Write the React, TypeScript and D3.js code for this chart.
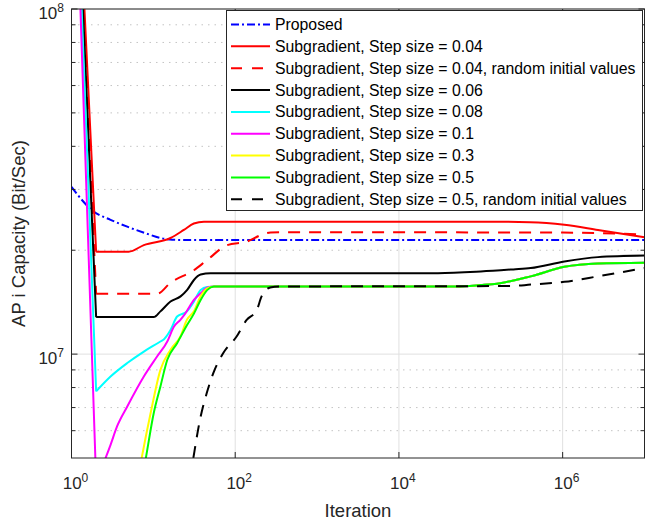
import React from 'react';
import * as d3 from 'd3';

type P = [number, number];

// ---------- data (iteration, capacity) ----------
const proposed: P[] = [[1, 3.05e7], [1.86, 2.59e7], [3, 2.45e7], [4.8, 2.34e7], [8, 2.24e7], [12.2, 2.17e7], [17, 2.145e7], [25, 2.14e7], [1e7, 2.14e7]];
const sub004: P[] = [[1, 6e8], [2, 1.98e7], [5, 1.98e7], [7.65, 2.07e7], [16.2, 2.17e7], [23.6, 2.29e7], [31.2, 2.39e7], [41.5, 2.42e7], [55, 2.42e7], [1e5, 2.42e7], [4e5, 2.41e7], [1.05e6, 2.37e7], [2.7e6, 2.29e7], [1e7, 2.18e7]];
const sub004Rand: P[] = [[1, 6e8], [2, 1.495e7], [11.1, 1.495e7], [16.2, 1.61e7], [31.3, 1.75e7], [45.6, 1.875e7], [80, 2.07e7], [140, 2.12e7], [204, 2.21e7], [270, 2.25e7], [400, 2.255e7], [1e6, 2.25e7], [1e7, 2.22e7]];
const sub006: P[] = [[1, 6e8], [2, 1.28e7], [10.1, 1.28e7], [12.2, 1.33e7], [16.2, 1.42e7], [21.5, 1.47e7], [25.9, 1.535e7], [31.3, 1.64e7], [37.8, 1.70e7], [50, 1.716e7], [3e4, 1.716e7], [1e5, 1.735e7], [2.5e5, 1.76e7], [4.07e5, 1.775e7], [1.05e6, 1.855e7], [2.7e6, 1.91e7], [1e7, 1.93e7]];
const convergedTail: P[] = [[55, 1.57e7], [5e4, 1.57e7], [1e5, 1.585e7], [1.58e5, 1.6e7], [4.07e5, 1.68e7], [1.05e6, 1.79e7], [2.7e6, 1.83e7], [1e7, 1.84e7]];
const sub008: P[] = [[1, 6e8], [2, 7.8e6], [3, 8.61e6], [4.8, 9.42e6], [7.65, 1.017e7], [12.2, 1.088e7], [13.5, 1.105e7], [16.2, 1.175e7], [19.5, 1.285e7], [25.7, 1.33e7], [31.3, 1.42e7], [37.8, 1.535e7], [45.6, 1.565e7], ...convergedTail];
const sub01: P[] = [[1, 6e8], [2, 4.27e6], [3, 5.46e6], [3.6, 6.17e6], [4.8, 7.05e6], [7.65, 8.61e6], [11.1, 9.84e6], [14.8, 1.088e7], [17.8, 1.2e7], [21.4, 1.257e7], [24.5, 1.31e7], [31.3, 1.435e7], [37.8, 1.5e7], [46, 1.56e7], ...convergedTail];
const sub03: P[] = [[1, 1e6], [4, 2.5e6], [6.3, 4.2e6], [7.2, 5.0e6], [9.25, 6.74e6], [12.2, 9.0e6], [16.2, 1.03e7], [21.4, 1.125e7], [25.7, 1.257e7], [31.3, 1.33e7], [37.8, 1.47e7], [45.6, 1.55e7], ...convergedTail];
const sub05: P[] = [[1, 1e6], [4, 2.3e6], [7.1, 4.2e6], [8.1, 5.0e6], [10.1, 6.74e6], [12.2, 8.06e6], [14.8, 9.63e6], [19.5, 1.076e7], [25.9, 1.216e7], [31.3, 1.31e7], [37.8, 1.435e7], [45.7, 1.535e7], ...convergedTail];
const sub05Rand: P[] = [[20, 2.5e6], [30.8, 5e6], [37.1, 6.45e6], [44.9, 7.71e6], [54, 8.81e6], [71.5, 1.007e7], [104, 1.125e7], [138, 1.257e7], [183, 1.34e7], [210, 1.47e7], [268, 1.56e7], [359, 1.57e7], [2.3e5, 1.575e7], [4.07e5, 1.59e7], [1.05e6, 1.62e7], [2.7e6, 1.68e7], [1e7, 1.775e7]];

const legendLabels = [
  'Proposed',
  'Subgradient, Step size = 0.04',
  'Subgradient, Step size = 0.04, random initial values',
  'Subgradient, Step size = 0.06',
  'Subgradient, Step size = 0.08',
  'Subgradient, Step size = 0.1',
  'Subgradient, Step size = 0.3',
  'Subgradient, Step size = 0.5',
  'Subgradient, Step size = 0.5, random initial values',
];

const xTickValues = [1, 1e2, 1e4, 1e6];
const xTickExp = ['0', '2', '4', '6'];
const yMajorValues = [1e7, 1e8];
const yMajorExp = ['7', '8'];
const yMinorValues = [6e6, 7e6, 8e6, 9e6, 2e7, 3e7, 4e7, 5e7, 6e7, 7e7, 8e7, 9e7];

// ---------- layout / style ----------
const W = 645, H = 529;
const X0 = 71.5, X1 = 644.5, Y0 = 9, Y1 = 458;
const FONT = '"Liberation Sans", Arial, Helvetica, sans-serif';
const AX = '#262626';

const seriesList = [
  { data: proposed, color: '#0000ff', dash: '8,3,2,3', sharp: false },
  { data: sub004, color: '#ff0000', dash: '', sharp: true },
  { data: sub004Rand, color: '#ff0000', dash: '12,9', sharp: true },
  { data: sub006, color: '#000000', dash: '', sharp: true },
  { data: sub008, color: '#00ffff', dash: '', sharp: true },
  { data: sub01, color: '#ff00ff', dash: '', sharp: true },
  { data: sub03, color: '#ffff00', dash: '', sharp: false },
  { data: sub05, color: '#00ff00', dash: '', sharp: false },
  { data: sub05Rand, color: '#000000', dash: '12,9', sharp: false },
];

export default function App() {
  const x = d3.scaleLog().domain([1, 1e7]).range([X0, X1]);
  const y = d3.scaleLog().domain([5e6, 1e8]).range([Y1, Y0]);
  const lin = d3.line<P>().x(d => x(d[0])).y(d => y(d[1]));
  const smooth = d3.line<P>().x(d => x(d[0])).y(d => y(d[1])).curve(d3.curveMonotoneX);

  const pathFor = (data: P[], sharp: boolean) =>
    sharp ? (lin(data.slice(0, 2)) || '') + (smooth(data.slice(1)) || '') : smooth(data) || '';

  const legX = 226.5, legY = 10.5, legW = 416, legH = 200;
  const rowY0 = 24.5, rowDY = 21.85;

  return (
    <svg width={W} height={H} style={{ position: 'absolute', left: 0, top: 0, background: '#fff' }} fontFamily={FONT}>
      <defs>
        <clipPath id="plotclip">
          <rect x={X0} y={Y0} width={X1 - X0} height={Y1 - Y0} />
        </clipPath>
      </defs>
      <rect x={0} y={0} width={W} height={H} fill="#fff" />
      {/* grid */}
      {yMinorValues.map(v => (
        <line key={'gm' + v} x1={X0} x2={X1} y1={y(v)} y2={y(v)} stroke="#c4c4c4" strokeWidth={1} strokeDasharray="1.5,5" />
      ))}
      {yMajorValues.map(v => (
        <line key={'gy' + v} x1={X0} x2={X1} y1={y(v)} y2={y(v)} stroke="#e0e0e0" strokeWidth={1} />
      ))}
      {xTickValues.slice(1).map(v => (
        <line key={'gx' + v} x1={x(v)} x2={x(v)} y1={Y0} y2={Y1} stroke="#e0e0e0" strokeWidth={1} />
      ))}
      {/* series */}
      <g clipPath="url(#plotclip)">
        {seriesList.map((s, i) => (
          <path key={'s' + i} d={pathFor(s.data, s.sharp)} fill="none" stroke={s.color} strokeWidth={2}
            strokeDasharray={s.dash || undefined} strokeLinejoin="round" />
        ))}
      </g>
      {/* axes box */}
      <rect x={X0} y={Y0} width={X1 - X0} height={Y1 - Y0} fill="none" stroke={AX} strokeWidth={1} />
      {/* ticks */}
      {yMinorValues.map(v => (
        <g key={'tm' + v}>
          <line x1={X0} x2={X0 + 4} y1={y(v)} y2={y(v)} stroke={AX} />
          <line x1={X1} x2={X1 - 4} y1={y(v)} y2={y(v)} stroke={AX} />
        </g>
      ))}
      {yMajorValues.map(v => (
        <g key={'tM' + v}>
          <line x1={X0} x2={X0 + 6} y1={y(v)} y2={y(v)} stroke={AX} />
          <line x1={X1} x2={X1 - 6} y1={y(v)} y2={y(v)} stroke={AX} />
        </g>
      ))}
      {xTickValues.map(v => (
        <g key={'tx' + v}>
          <line x1={x(v)} x2={x(v)} y1={Y1} y2={Y1 - 6} stroke={AX} />
          <line x1={x(v)} x2={x(v)} y1={Y0} y2={Y0 + 6} stroke={AX} />
        </g>
      ))}
      {/* tick labels */}
      {yMajorValues.map((v, i) => (
        <text key={'ly' + v} x={64} y={y(v) + 10} textAnchor="end" fontSize={17} fill={AX}>
          10<tspan dy={-7} fontSize={12}>{yMajorExp[i]}</tspan>
        </text>
      ))}
      {xTickValues.map((v, i) => (
        <text key={'lx' + v} x={x(v) + 4} y={489} textAnchor="middle" fontSize={17} fill={AX}>
          10<tspan dy={-7} fontSize={12}>{xTickExp[i]}</tspan>
        </text>
      ))}
      {/* axis labels */}
      <text x={(X0 + X1) / 2} y={516.5} textAnchor="middle" fontSize={18.5} fill={AX}>Iteration</text>
      <text transform={`translate(25,${(Y0 + Y1) / 2}) rotate(-90)`} textAnchor="middle" fontSize={18.5} fill={AX}>
        AP i Capacity (Bit/Sec)
      </text>
      {/* legend */}
      <rect x={legX} y={legY} width={legW} height={legH} fill="#fff" stroke={AX} strokeWidth={1} />
      {seriesList.map((s, i) => {
        const yy = rowY0 + i * rowDY;
        return (
          <g key={'lg' + i}>
            <line x1={231} x2={270} y1={yy} y2={yy} stroke={s.color} strokeWidth={2}
              strokeDasharray={s.dash ? (s.dash === '12,9' ? '11,10' : s.dash) : undefined} />
            <text x={275} y={yy + 5.5} fontSize={15.8} fill="#000">{legendLabels[i]}</text>
          </g>
        );
      })}
    </svg>
  );
}
